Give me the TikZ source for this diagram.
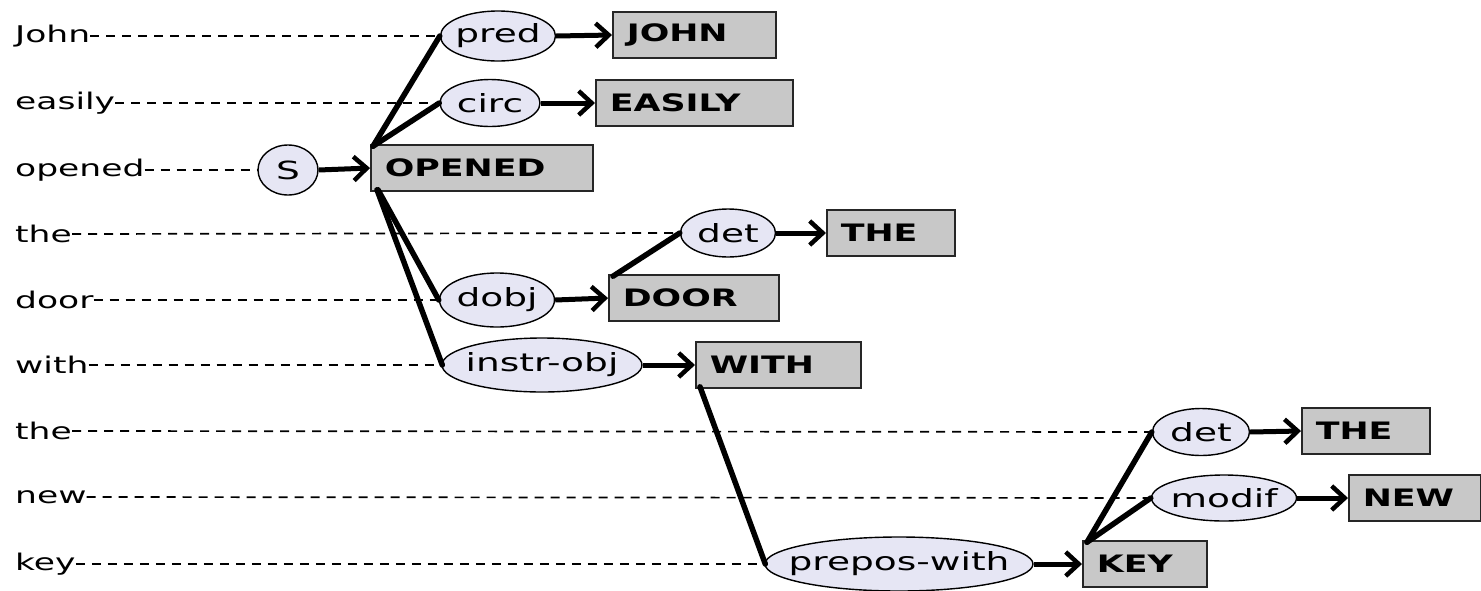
\documentclass[tikz,border=0pt]{standalone}
\usepackage{fontspec}
\usetikzlibrary{shapes.geometric,arrows.meta}
\newfontfamily\wfont[FakeStretch=1.5]{DejaVu Sans}
\newfontfamily\bxfont[FakeStretch=1.45]{DejaVu Sans Bold}
\newcommand\ctext[1]{\makebox[0pt]{#1}}
\definecolor{ellfill}{RGB}{230,230,244}
\definecolor{boxfill}{RGB}{200,200,200}
\tikzset{
  word/.style={anchor=west, inner sep=0pt, font=\wfont\fontsize{23}{27}\selectfont},
  rel/.style={ellipse, draw=black, line width=1.4pt, fill=ellfill, inner sep=0pt, font=\wfont\fontsize{25}{29}\selectfont},
  lex/.style={draw=black!85, line width=1.6pt, fill=boxfill, minimum height=46pt, inner xsep=14pt, inner ysep=0pt, anchor=west, align=left, font=\bxfont\fontsize{24}{28}\selectfont},
  guide/.style={line width=1.7pt, dash pattern=on 9pt off 7pt},
  link/.style={line width=5.5pt, line cap=round},
  arr/.style={line width=5pt, -{Straight Barb[length=13pt,width=24pt,line width=4.5pt]}}
}
\begin{document}
\begin{tikzpicture}[x=1pt,y=-1pt]
\useasboundingbox (0,0) rectangle (1481,590);
% words
\node[word] (w1) at (15,36) {John};
\node[word] (w2) at (15,103) {easily};
\node[word] (w3) at (15,170) {opened};
\node[word] (w4) at (15,234) {the};
\node[word] (w5) at (15,300) {door};
\node[word] (w6) at (15,365) {with};
\node[word] (w7) at (15,431) {the};
\node[word] (w8) at (15,497) {new};
\node[word] (w9) at (15,564) {key};
% relation ellipses
\node[rel, minimum width=115pt, minimum height=50pt] (pred) at (498,36) {\ctext{pred}};
\node[rel, minimum width=100pt, minimum height=47pt] (circ) at (490,103) {\ctext{circ}};
\node[rel, minimum width=60pt, minimum height=50pt] (S) at (288,170) {\ctext{S}};
\node[rel, minimum width=95pt, minimum height=48pt] (det1) at (728,233) {\ctext{det}};
\node[rel, minimum width=115pt, minimum height=54pt] (dobj) at (497,300) {\ctext{dobj}};
\node[rel, minimum width=200pt, minimum height=54pt] (instr) at (542,365) {\ctext{instr-obj}};
\node[rel, minimum width=97pt, minimum height=47pt] (det2) at (1201,432) {\ctext{det}};
\node[rel, minimum width=145pt, minimum height=46pt] (modif) at (1224,498) {\ctext{modif}};
\node[rel, minimum width=268pt, minimum height=54pt] (prepos) at (899,564) {\ctext{prepos-with}};
% lexical boxes (text width = box width - 28)
\node[lex, text width=135pt] (JOHN) at (612,35) {JOHN};
\node[lex, text width=169pt] (EASILY) at (595,103) {EASILY};
\node[lex, text width=194pt] (OPENED) at (370,168) {OPENED};
\node[lex, text width=100pt] (THE1) at (826,233) {THE};
\node[lex, text width=142pt] (DOOR) at (608,298) {DOOR};
\node[lex, text width=137pt] (WITH) at (695,365) {WITH};
\node[lex, text width=100pt] (THE2) at (1301,431) {THE};
\node[lex, text width=104pt] (NEW) at (1348,498) {NEW};
\node[lex, text width=96pt] (KEY) at (1082,564) {KEY};
% guides
\draw[guide] (w1.east) -- (pred.west);
\draw[guide] (w2.east) -- (circ.west);
\draw[guide] (w3.east) -- (S.west);
\draw[guide] (w4.east) -- (det1.west);
\draw[guide] (w5.east) -- (dobj.west);
\draw[guide] (w6.east) -- (instr.west);
\draw[guide] (w7.east) -- (det2.west);
\draw[guide] (w8.east) -- (modif.west);
\draw[guide] (w9.east) -- (prepos.west);
% tree links
\draw[link] ([xshift=3pt,yshift=-2pt]OPENED.north west) -- (pred.west);
\draw[link] ([xshift=3pt,yshift=-2pt]OPENED.north west) -- (circ.west);
\draw[link] ([xshift=8pt,yshift=2pt]OPENED.south west) -- (dobj.west);
\draw[link] ([xshift=7pt,yshift=2pt]OPENED.south west) -- ([xshift=1pt]instr.west);
\draw[link] ([xshift=5pt,yshift=-2pt]DOOR.north west) -- (det1.west);
\draw[link] ([xshift=5pt,yshift=2pt]WITH.south west) -- ([xshift=1pt]prepos.west);
\draw[link] ([xshift=5pt,yshift=-2pt]KEY.north west) -- (det2.west);
\draw[link] ([xshift=5pt,yshift=-2pt]KEY.north west) -- (modif.west);
% arrows
\draw[arr] (S.east) -- (OPENED.west);
\draw[arr] (pred.east) -- (JOHN.west);
\draw[arr] (circ.east) -- (EASILY.west);
\draw[arr] (det1.east) -- (THE1.west);
\draw[arr] (dobj.east) -- (DOOR.west);
\draw[arr] (instr.east) -- (WITH.west);
\draw[arr] (det2.east) -- (THE2.west);
\draw[arr] (modif.east) -- (NEW.west);
\draw[arr] (prepos.east) -- (KEY.west);
\end{tikzpicture}
\end{document}
